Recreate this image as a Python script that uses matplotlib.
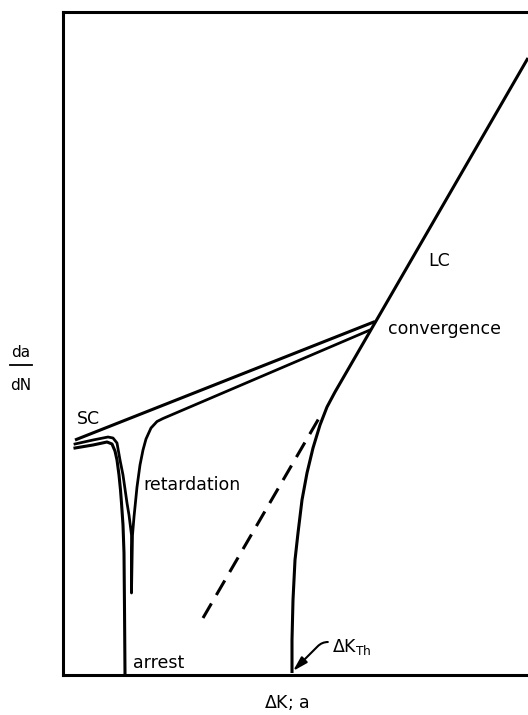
import matplotlib
matplotlib.use("Agg")
import matplotlib.pyplot as plt

plt.rcParams['font.family'] = ['DejaVu Sans']

# Schematic crack-growth diagram (arbitrary units, no scale)
# long-crack (LC) curve: threshold foot rising into the straight Paris line
lc_x = [229, 229, 230, 232, 235, 239, 244, 250, 257, 264, 272, 465]
lc_y = [2, 35, 75, 115, 142, 175, 202, 227, 250, 268, 283, 617]

# extrapolation of the Paris line below the knee
dash_x = [140, 259]
dash_y = [57, 262]

# short-crack (SC) upper band, converging onto the LC line
sc_x = [12, 312]
sc_y = [235, 353.5]

# short crack that is retarded and then recovers to the lower band
ret_x = [12, 30, 45, 50, 54, 57, 60, 62, 64, 66, 68.5, 68.5, 69.5, 71, 74, 77, 80, 83, 88, 94, 100, 307]
ret_y = [231, 235, 238, 237, 232, 215, 200, 186, 172, 160, 140, 82, 140, 158, 188, 210, 225, 236, 247, 253.5, 256.5, 345]

# short crack that arrests
arr_x = [12, 30, 44, 49, 52, 54, 56, 57.5, 58.5, 60, 61, 61.5, 62]
arr_y = [227, 230, 233, 231, 224, 215, 200, 185, 172, 150, 122, 67, 1]

dkth_x, dkth_y = 230, 4

W, H = 528, 715
fig = plt.figure(figsize=(W / 100, H / 100), dpi=100)
ax = fig.add_axes([63 / W, 40 / H, 465 / W, 663 / H])
ax.set_xlim(0, 465)
ax.set_ylim(0, 663)
ax.set_xticks([])
ax.set_yticks([])
ax.spines['right'].set_visible(False)
for s in ('left', 'top', 'bottom'):
    ax.spines[s].set_linewidth(2.2)

lw = 2.2
ax.plot(lc_x, lc_y, color='black', lw=lw, solid_capstyle='butt')
ax.plot(dash_x, dash_y, color='black', lw=lw, dashes=(5.5, 3.2))
ax.plot(sc_x, sc_y, color='black', lw=lw, solid_capstyle='butt')
ax.plot(ret_x, ret_y, color='black', lw=lw * 0.9, solid_joinstyle='round')
ax.plot(arr_x, arr_y, color='black', lw=lw, solid_joinstyle='round')

fs = 12.5
ax.text(14, 251, 'SC', fontsize=fs, ha='left', va='baseline')
ax.text(80, 185, 'retardation', fontsize=fs, ha='left', va='baseline')
ax.text(70, 7, 'arrest', fontsize=fs, ha='left', va='baseline')
ax.text(325, 341, 'convergence', fontsize=fs, ha='left', va='baseline')
ax.text(365, 409, 'LC', fontsize=fs, ha='left', va='baseline')

ax.annotate(r'$\Delta$K$_{\mathrm{Th}}$', xy=(dkth_x, dkth_y), xytext=(269, 23),
            textcoords='data', fontsize=fs, ha='left', va='baseline',
            arrowprops=dict(arrowstyle='-|>,head_length=0.7,head_width=0.2',
                            connectionstyle='angle,angleA=0,angleB=45,rad=6',
                            relpos=(0, 0.75), shrinkA=1, shrinkB=0,
                            color='black', lw=1.5))

# axis labels drawn as free text outside the frame
ax.text(224, -33, r'$\Delta$K; a', fontsize=fs, ha='center', va='baseline', clip_on=False)
ax.text(-42, 318, 'da', fontsize=11, ha='center', va='baseline', clip_on=False)
ax.text(-42, 285, 'dN', fontsize=11, ha='center', va='baseline', clip_on=False)
ax.plot([-53, -31], [310, 310], color='black', lw=1.3, clip_on=False)

fig.savefig('out.png', dpi=100)
